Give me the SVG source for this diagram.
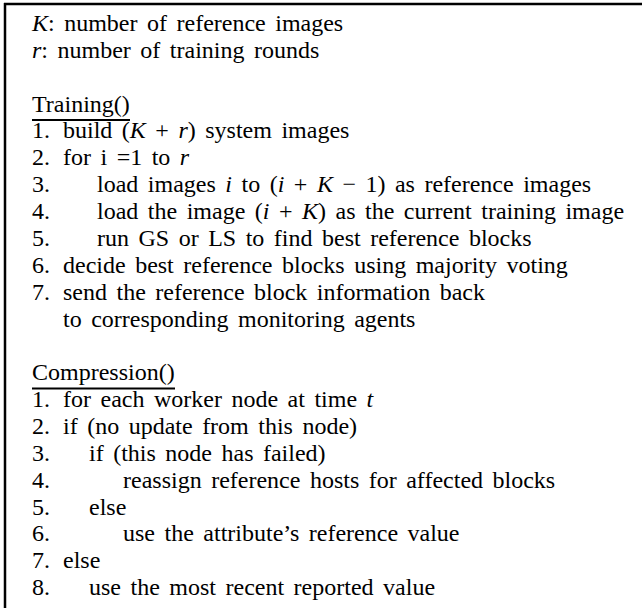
<svg xmlns="http://www.w3.org/2000/svg" width="642" height="608" viewBox="0 0 642 608">
<style>
text{font-family:"Liberation Serif","Times New Roman",serif;font-size:24px;fill:#000;word-spacing:3.5px}
.m{font-style:italic}
.rule{stroke:#000;stroke-width:2.5;fill:none}
.ul{stroke:#000;stroke-width:2;fill:none}
</style>
<rect width="642" height="608" fill="#fff"/>
<g id="frame">
<line class="rule" x1="4" y1="4" x2="642" y2="4"/>
<line class="rule" x1="5" y1="3" x2="5" y2="608"/>
</g>
<g id="legend">
<text x="32" y="31"><tspan class="m">K</tspan>: number of reference images</text>
<text x="32" y="57.9"><tspan class="m">r</tspan>: number of training rounds</text>
</g>
<g id="training">
<text x="32" y="111.6">Training()</text>
<line class="ul" x1="32" y1="120" x2="130" y2="120"/>
<text x="32" y="138.4">1.</text><text x="63" y="138.4">build (<tspan class="m">K</tspan> + <tspan class="m">r</tspan>) system images</text>
<text x="32" y="165.3">2.</text><text x="63" y="165.3">for i =1 to <tspan class="m">r</tspan></text>
<text x="32" y="192.2">3.</text><text x="97" y="192.2">load images <tspan class="m">i</tspan> to (<tspan class="m">i</tspan> + <tspan class="m">K</tspan> − 1) as reference images</text>
<text x="32" y="219">4.</text><text x="97" y="219">load the image (<tspan class="m">i</tspan> + <tspan class="m">K</tspan>) as the current training image</text>
<text x="32" y="245.9">5.</text><text x="97" y="245.9">run GS or LS to find best reference blocks</text>
<text x="32" y="272.7">6.</text><text x="63" y="272.7">decide best reference blocks using majority voting</text>
<text x="32" y="299.6">7.</text><text x="63" y="299.6">send the reference block information back</text>
<text x="63" y="326.5">to corresponding monitoring agents</text>
</g>
<g id="compression">
<text x="32" y="380.2">Compression()</text>
<line class="ul" x1="32" y1="388.5" x2="175" y2="388.5"/>
<text x="32" y="407">1.</text><text x="63" y="407">for each worker node at time <tspan class="m">t</tspan></text>
<text x="32" y="433.9">2.</text><text x="63" y="433.9">if (no update from this node)</text>
<text x="32" y="460.8">3.</text><text x="89" y="460.8">if (this node has failed)</text>
<text x="32" y="487.6">4.</text><text x="123" y="487.6">reassign reference hosts for affected blocks</text>
<text x="32" y="514.5">5.</text><text x="89" y="514.5">else</text>
<text x="32" y="541.4">6.</text><text x="123" y="541.4">use the attribute’s reference value</text>
<text x="32" y="568.2">7.</text><text x="63" y="568.2">else</text>
<text x="32" y="595.1">8.</text><text x="89" y="595.1">use the most recent reported value</text>
</g>
</svg>
